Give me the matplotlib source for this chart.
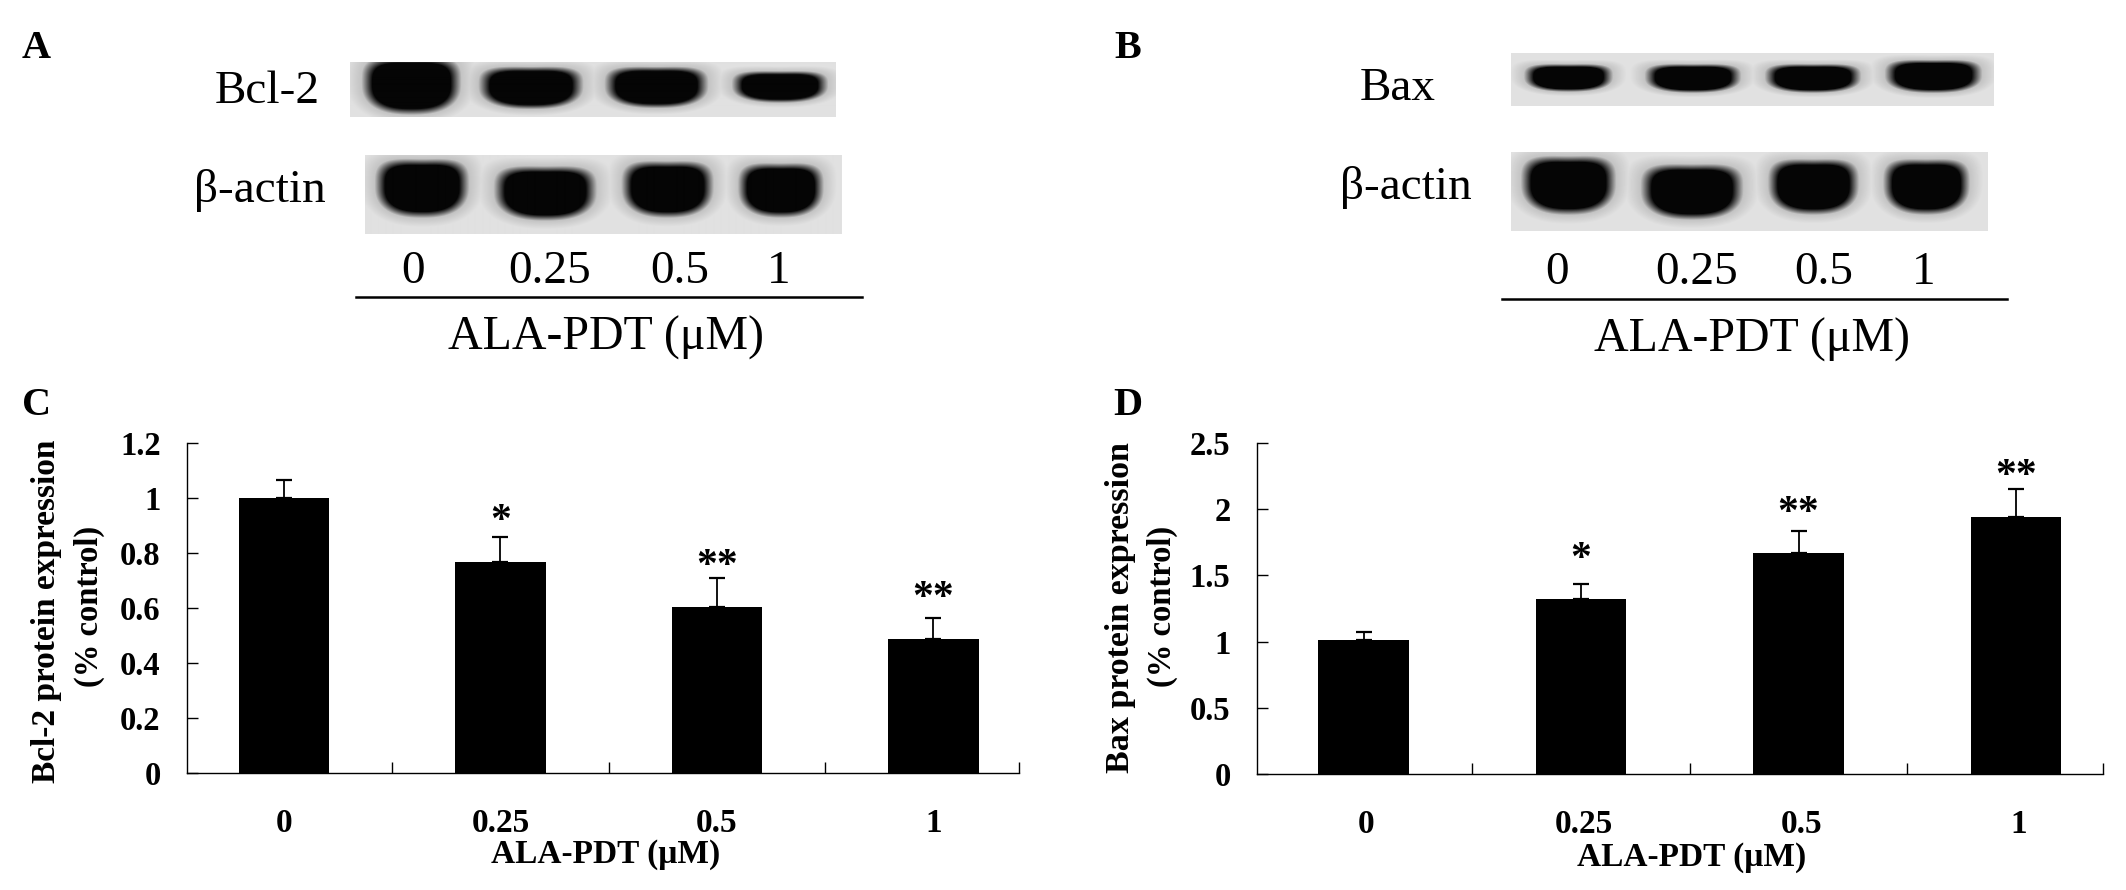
import numpy as np

import matplotlib
matplotlib.use('Agg')
import matplotlib.pyplot as plt

W, H = 2126, 890
SERIF = ['Liberation Serif', 'DejaVu Serif']

doses = ['0', '0.25', '0.5', '1']

bcl2_mean = [1.0, 0.768, 0.605, 0.489]
bcl2_top = [1.066, 0.86, 0.708, 0.564]
bcl2_stars = ['', '*', '**', '**']
bcl2_star_y = [None, 0.936, 0.773, 0.658]

bax_mean = [1.015, 1.324, 1.666, 1.942]
bax_top = [1.075, 1.432, 1.839, 2.15]
bax_stars = ['', '*', '**', '**']
bax_star_y = [None, 1.67, 2.015, 2.295]

# blots: (x0, x1, y0, y1) in picture pixels
bcl2_box = (350, 836, 62, 117)
bcl2_bands = [(365, 458, 60, 113), (482, 580, 69, 108), (608, 705, 69, 107), (735, 825, 73, 102)]
actin_a_box = (365, 841, 155, 234)
actin_a_bands = [(378, 466, 161, 216), (497, 593, 168, 219), (624, 710, 163, 216), (740, 820, 165, 216)]
bax_box = (1511, 1994, 53, 106)
bax_bands = [(1527, 1610, 65, 91), (1648, 1738, 65, 92), (1768, 1858, 65, 92), (1888, 1979, 61, 92)]
actin_b_box = (1511, 1988, 152, 231)
actin_b_bands = [(1524, 1613, 158, 213), (1644, 1740, 166, 218), (1771, 1856, 161, 213), (1886, 1967, 161, 213)]


def px_axes(fig, x0, x1, y0, y1, **kw):
    return fig.add_axes([x0/W, 1-y1/H, (x1-x0)/W, (y1-y0)/H], **kw)


def draw_blot(fig, box, bands):
    x0, x1, y0, y1 = box
    xx, yy = np.meshgrid(np.arange(x0, x1)+0.5, np.arange(y0, y1)+0.5)
    img = np.full(xx.shape, 0.88)
    for bx0, bx1, by0, by1 in bands:
        cx, cy = (bx0+bx1)/2, (by0+by1)/2
        rx, ry = (bx1-bx0)/2, (by1-by0)/2
        u = (xx-cx)/rx
        v = (yy-cy+0.08*(by1-by0)*u**2)/ry
        r = (np.abs(u)**3+np.abs(v)**3)**(1/3)
        dark = np.clip((1.12-r)/0.28, 0, 1)
        halo = np.clip((1.4-r)/0.4, 0, 1)
        img = np.minimum(img, 0.88-0.14*halo)
        img = np.minimum(img, 0.88*(1-dark)+0.02)
    ax = px_axes(fig, x0, x1, y0, y1)
    ax.imshow(img, cmap='gray', vmin=0, vmax=1, aspect='auto', interpolation='bilinear')
    ax.axis('off')


def draw_bars(fig, box, ymax, yticks, ylabels, mean, top, stars, star_y, xlim, label_dx=0):
    ax = px_axes(fig, *box)
    x = np.arange(len(doses))
    ax.bar(x, mean, width=0.416, color='black', zorder=3)
    ax.errorbar(x, mean, yerr=[np.zeros(4), np.array(top)-np.array(mean)], fmt='none', ecolor='black',
                elinewidth=1.3, capsize=5.8, capthick=1.6, zorder=2)
    ax.set_xlim(*xlim)
    ax.set_ylim(0, ymax)
    ax.spines['top'].set_visible(False)
    ax.spines['right'].set_visible(False)
    ax.spines['left'].set_linewidth(1.0)
    ax.spines['bottom'].set_linewidth(1.0)
    ax.set_yticks(yticks)
    ax.set_yticklabels(ylabels, family=SERIF, weight='bold', fontsize=23.5)
    ax.tick_params(axis='y', direction='in', length=8, width=1.0, pad=19)
    ax.set_xticks([0.5, 1.5, 2.5, xlim[1]])
    ax.set_xticklabels([])
    ax.tick_params(axis='x', direction='in', length=8, width=1.0)
    trans = ax.get_xaxis_transform()
    for i, d in enumerate(doses):
        ax.annotate(d, (i, 0), xycoords=trans, xytext=(label_dx, -59*0.72), textcoords='offset points', ha='center',
                    va='baseline', family=SERIF, weight='bold', fontsize=24)
        if stars[i]:
            ax.annotate(stars[i], (i, star_y[i]), xytext=(0, -12), textcoords='offset points', ha='center',
                        va='baseline', family=SERIF, weight='bold', fontsize=30)
    return ax


fig = plt.figure(figsize=(W/100, H/100), dpi=100)
page = fig.add_axes([0, 0, 1, 1])
page.set_xlim(0, W)
page.set_ylim(H, 0)
page.axis('off')

draw_blot(fig, bcl2_box, bcl2_bands)
draw_blot(fig, actin_a_box, actin_a_bands)
draw_blot(fig, bax_box, bax_bands)
draw_blot(fig, actin_b_box, actin_b_bands)


def ptext(x, y, s, size, ha='left', weight='normal', rotation=0, va='baseline'):
    page.text(x, y, s, fontsize=size, ha=ha, va=va, weight=weight, rotation=rotation, family=SERIF,
              rotation_mode='anchor' if rotation else 'default')


for s, x, y in [('A', 22, 58), ('B', 1114, 58), ('C', 22, 415), ('D', 1113, 415)]:
    ptext(x, y, s, 29, weight='bold')

ptext(320, 103, 'Bcl-2', 34, ha='right')
ptext(326, 202, 'β-actin', 34, ha='right')
ptext(1436, 100, 'Bax', 34, ha='right')
ptext(1472, 199, 'β-actin', 34, ha='right')

for d, x in zip(doses, [413, 550, 680, 779]):
    ptext(x, 283, d, 34, ha='center')
for d, x in zip(doses, [1557, 1697, 1824, 1924]):
    ptext(x, 284, d, 34, ha='center')

page.plot([356, 862], [297, 297], color='black', lw=1.8)
page.plot([1502, 2007], [299, 299], color='black', lw=1.8)
ptext(606, 350, 'ALA-PDT (μM)', 34.5, ha='center')
ptext(1752, 352, 'ALA-PDT (μM)', 34.5, ha='center')

draw_bars(fig, (187, 1019, 443, 773), 1.2, [0, 0.2, 0.4, 0.6, 0.8, 1.0, 1.2],
          ['0', '0.2', '0.4', '0.6', '0.8', '1', '1.2'], bcl2_mean, bcl2_top, bcl2_stars, bcl2_star_y,
          (-0.448, 3.395))
draw_bars(fig, (1257, 2103, 443, 774), 2.5, [0, 0.5, 1, 1.5, 2, 2.5],
          ['0', '0.5', '1', '1.5', '2', '2.5'], bax_mean, bax_top, bax_stars, bax_star_y,
          (-0.49, 3.40), label_dx=2)

ptext(606, 863, 'ALA-PDT (μM)', 24, ha='center', weight='bold')
ptext(1692, 866, 'ALA-PDT (μM)', 24, ha='center', weight='bold')

ptext(55, 611, 'Bcl-2 protein expression', 24, ha='center', weight='bold', rotation=90)
ptext(98, 606, '(% control)', 23.5, ha='center', weight='bold', rotation=90)
ptext(1129, 608, 'Bax protein expression', 24.5, ha='center', weight='bold', rotation=90)
ptext(1171, 606, '(% control)', 23.5, ha='center', weight='bold', rotation=90)

fig.savefig('out.png', dpi=100)
